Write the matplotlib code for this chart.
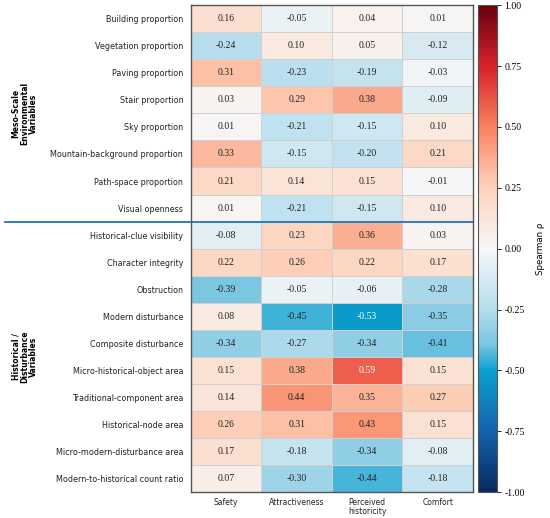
import numpy as np
import matplotlib
matplotlib.use('Agg')
import matplotlib.pyplot as plt
from matplotlib.colors import LinearSegmentedColormap
import matplotlib.transforms as mtransforms

columns = ['Safety', 'Attractiveness', 'Perceived\nhistoricity', 'Comfort']

meso_rows = ['Building proportion', 'Vegetation proportion', 'Paving proportion',
             'Stair proportion', 'Sky proportion', 'Mountain-background proportion',
             'Path-space proportion', 'Visual openness']
meso_vals = [[0.16, -0.05, 0.04, 0.01],
             [-0.24, 0.10, 0.05, -0.12],
             [0.31, -0.23, -0.19, -0.03],
             [0.03, 0.29, 0.38, -0.09],
             [0.01, -0.21, -0.15, 0.10],
             [0.33, -0.15, -0.20, 0.21],
             [0.21, 0.14, 0.15, -0.01],
             [0.01, -0.21, -0.15, 0.10]]

hist_rows = ['Historical-clue visibility', 'Character integrity', 'Obstruction',
             'Modern disturbance', 'Composite disturbance', 'Micro-historical-object area',
             'Traditional-component area', 'Historical-node area',
             'Micro-modern-disturbance area', 'Modern-to-historical count ratio']
hist_vals = [[-0.08, 0.23, 0.36, 0.03],
             [0.22, 0.26, 0.22, 0.17],
             [-0.39, -0.05, -0.06, -0.28],
             [0.08, -0.45, -0.53, -0.35],
             [-0.34, -0.27, -0.34, -0.41],
             [0.15, 0.38, 0.59, 0.15],
             [0.14, 0.44, 0.35, 0.27],
             [0.26, 0.31, 0.43, 0.15],
             [0.17, -0.18, -0.34, -0.08],
             [0.07, -0.30, -0.44, -0.18]]

rows = meso_rows + hist_rows
data = np.array(meso_vals + hist_vals)

# blue-white-red map with a cyan middle on the negative side
cmap = LinearSegmentedColormap.from_list('spearman', [
    (0.0, '#082a5e'), (0.125, '#1463ac'), (0.25, '#0aa2cf'),
    (0.30, '#76c4e0'), (0.375, '#b5dded'), (0.5, '#f7f7f7'), (0.625, '#fdd3bd'),
    (0.75, '#f8825f'), (0.875, '#d9222b'), (1.0, '#67000d')])

fig = plt.figure(figsize=(5.5, 5.18), dpi=100)
ax = fig.add_axes([0.347, 0.050, 0.513, 0.940])
cax = fig.add_axes([0.869, 0.050, 0.035, 0.940])

mesh = ax.pcolormesh(data, cmap=cmap, vmin=-1, vmax=1,
                     edgecolors='#d0d0d0', linewidth=0.6)
ax.set_xlim(0, data.shape[1])
ax.set_ylim(data.shape[0], 0)

for i in range(data.shape[0]):
    for j in range(data.shape[1]):
        v = data[i, j]
        ax.text(j + 0.5, i + 0.5, f'{v:.2f}', ha='center', va='center',
                fontsize=7, family='Liberation Serif',
                color='white' if abs(v) >= 0.5 else '#222222')

ax.set_xticks(np.arange(data.shape[1]) + 0.5)
ax.set_xticklabels(columns, fontsize=5.5, color='#222222', linespacing=1.0)
ax.set_yticks(np.arange(data.shape[0]) + 0.5)
ax.set_yticklabels(rows, fontsize=5.8, color='#222222')
ax.tick_params(axis='y', length=0, pad=5.5)
ax.tick_params(axis='x', length=0, pad=4)
for s in ax.spines.values():
    s.set_color('#555555')
    s.set_linewidth(1.0)

# separator between the two groups
trans = mtransforms.blended_transform_factory(ax.transAxes, ax.transData)
ax.plot([-0.66, 1.0], [len(meso_rows), len(meso_rows)], color='#1f77b4',
        linewidth=1.3, transform=trans, clip_on=False)

ax.text(-0.59, len(meso_rows) / 2, 'Meso-Scale\nEnvironmental\nVariables',
        transform=trans, rotation=90, ha='center', va='center',
        fontsize=5.5, fontweight='bold', linespacing=0.95)
ax.text(-0.59, len(meso_rows) + len(hist_rows) / 2, 'Historical /\nDisturbance\nVariables',
        transform=trans, rotation=90, ha='center', va='center',
        fontsize=5.5, fontweight='bold', linespacing=0.95)

cb = fig.colorbar(mesh, cax=cax, ticks=np.linspace(-1, 1, 9))
cb.ax.set_yticklabels([f'{t:.2f}' for t in np.linspace(-1, 1, 9)],
                      family='Liberation Serif', fontsize=7)
cb.ax.tick_params(length=3, width=0.6, pad=2)
cb.outline.set_edgecolor('#555555')
cb.set_label('Spearman ρ', fontsize=6.2, labelpad=8)

fig.savefig('out.png', dpi=100)
